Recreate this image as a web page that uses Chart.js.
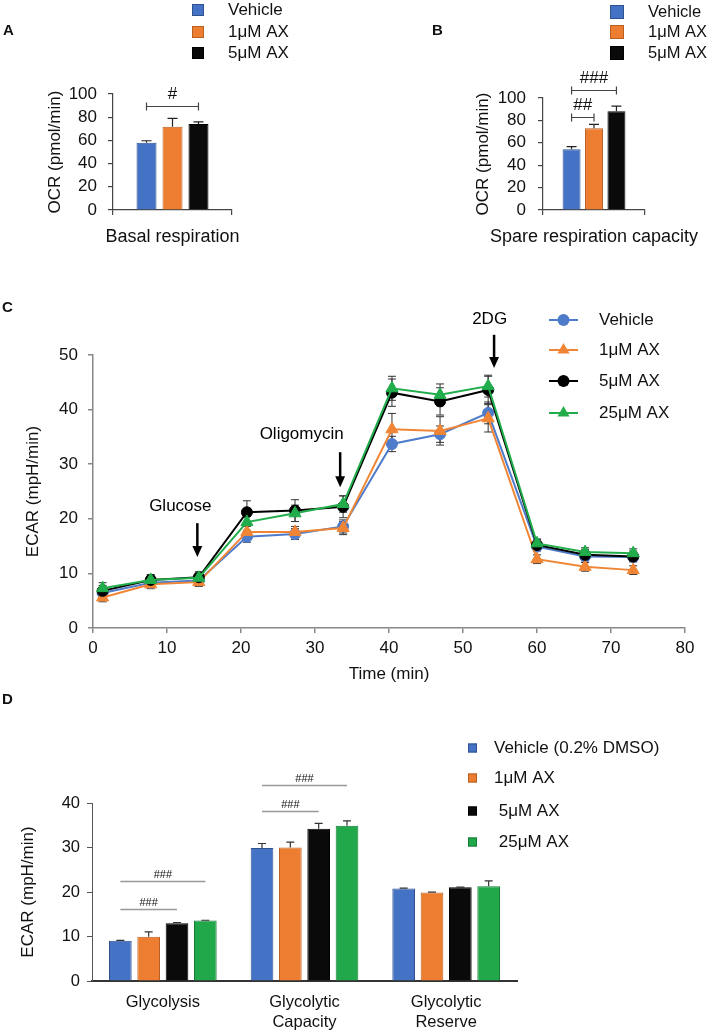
<!DOCTYPE html>
<html>
<head>
<meta charset="utf-8">
<title>OCR and ECAR</title>
<script src="https://cdn.jsdelivr.net/npm/chart.js@4.4.1/dist/chart.umd.min.js"></script>
<style>
  html, body { margin: 0; padding: 0; background: #fff; }
  #page { position: relative; width: 709px; height: 1032px; overflow: hidden; font-family: "Liberation Sans", Arial, sans-serif; }
  .panel { position: absolute; }
  .letter { position: absolute; font-size: 15px; font-weight: bold; line-height: 15px; color: #111; }
</style>
</head>
<body>
<div id="page">
  <div class="panel" style="left:0;top:0;width:360px;height:250px"><canvas id="chartA"></canvas></div>
  <div class="panel" style="left:360px;top:0;width:349px;height:250px"><canvas id="chartB"></canvas></div>
  <div class="panel" style="left:0;top:250px;width:709px;height:440px"><canvas id="chartC"></canvas></div>
  <div class="panel" style="left:0;top:690px;width:709px;height:342px"><canvas id="chartD"></canvas></div>
  <div class="letter" style="left:3px;top:22px">A</div>
  <div class="letter" style="left:432px;top:22px">B</div>
  <div class="letter" style="left:2px;top:299px">C</div>
  <div class="letter" style="left:2px;top:691px">D</div>
</div>
<script>
// ---- panel A / B : OCR bars
const ocrGroups = ['Vehicle', '1μM AX', '5μM AX'];
const basalCategory = ['Basal respiration'];
const basalMean = [58.0, 71.8, 74.1];
const basalErr = [1.7, 7.2, 1.8];
const spareCategory = ['Spare respiration capacity'];
const spareMean = [54.3, 72.9, 88.2];
const spareErr = [2.3, 3.6, 4.5];
const ocrTicks = [0, 20, 40, 60, 80, 100];

const basalSigFrom = [0];
const basalSigTo = [2];
const basalSigLevel = [90];
const basalSigText = ['#'];
const spareSigFrom = [0, 0];
const spareSigTo = [2, 1];
const spareSigLevel = [107.4, 83.2];
const spareSigText = ['###', '##'];

// ---- panel C : ECAR time course
const ecarSeriesNames = ['Vehicle', '1μM AX', '5μM AX', '25μM AX'];
const timeMin = [1.3, 7.8, 14.3, 20.8, 27.3, 33.8, 40.4, 46.9, 53.4, 60.0, 66.5, 73.0];
const ecarVehicle = [6.4, 8.3, 8.7, 16.7, 17.2, 18.6, 33.7, 35.5, 39.4, 14.9, 13.1, 13.0];
const ecar1uM = [5.6, 8.0, 8.4, 17.6, 17.6, 18.3, 36.4, 36.1, 38.4, 12.6, 11.2, 10.6];
const ecar5uM = [6.8, 8.8, 9.3, 21.2, 21.5, 22.2, 43.1, 41.5, 43.6, 15.2, 13.4, 13.1];
const ecar25uM = [7.3, 8.8, 9.2, 19.4, 21.0, 22.7, 43.9, 42.7, 44.3, 15.5, 13.9, 13.7];
const errVehicle = [0.8, 0.8, 0.8, 1.0, 1.0, 1.2, 1.4, 1.5, 2.0, 0.8, 0.8, 0.8];
const err1uM = [0.8, 0.8, 0.8, 1.0, 1.0, 1.2, 2.9, 2.6, 2.5, 0.8, 0.8, 0.8];
const err5uM = [1.0, 1.0, 1.0, 2.1, 2.0, 2.0, 2.5, 2.5, 2.5, 1.0, 1.0, 1.0];
const err25uM = [1.0, 0.8, 0.8, 1.5, 1.5, 1.5, 2.2, 2.0, 2.0, 0.8, 0.8, 0.8];
const timeTicks = [0, 10, 20, 30, 40, 50, 60, 70, 80];
const ecarTicks = [0, 10, 20, 30, 40, 50];

const injectionNames = ['Glucose', 'Oligomycin', '2DG'];
const injectionTime = [14.1, 33.4, 54.2];
const injectionArrowFrom = [19.2, 32.2, 53.7];
const injectionArrowTo = [13.0, 25.8, 47.6];
const injectionLabelTime = [11.8, 28.2, 53.6];
const injectionLabelLevel = [22.2, 35.5, 56.6];

// ---- panel D : glycolysis parameters
const glycoGroups = ['Vehicle (0.2% DMSO)', '1μM AX', ' 5μM AX', ' 25μM AX'];
const glycoCategories = [['Glycolysis'], ['Glycolytic', 'Capacity'], ['Glycolytic', 'Reserve']];
const glycoVehicle = [9.05, 29.9, 20.8];
const glyco1uM = [9.96, 30.0, 19.9];
const glyco5uM = [13.0, 34.2, 21.05];
const glyco25uM = [13.6, 34.9, 21.3];
const glycoVehicleErr = [0.08, 1.0, 0.05];
const glyco1uMErr = [1.1, 1.2, 0.05];
const glyco5uMErr = [0.15, 1.2, 0.05];
const glyco25uMErr = [0.05, 1.1, 1.2];
const glycoTicks = [0, 10, 20, 30, 40];

const glycoSigCategory = [0, 0, 1, 1];
const glycoSigFrom = [0, 0, 0, 0];
const glycoSigTo = [2, 3, 2, 3];
const glycoSigLevel = [16.2, 22.5, 38.2, 44.0];
const glycoSigText = ['###', '###', '###', '###'];

const FONT = '"Liberation Sans", Arial, sans-serif';
const fillColors = ['#4472C4', '#ED7D31', '#0a0a0a', '#21A84A'];
const edgeColors = ['#2f528f', '#b85f22', '#000000', '#157a34'];
const lineColors = ['#4f7bcb', '#ef8535', '#000000', '#22ad4c'];
const markerStyles = ['circle', 'triangle', 'circle', 'triangle'];
const markerSizes = [5.5, 7, 5.5, 7];

Chart.defaults.font.family = FONT;
Chart.defaults.font.size = 17;
Chart.defaults.color = '#111';
Chart.defaults.animation = false;

function drawMarker(ctx, style, x, y, r, color) {
  ctx.fillStyle = color;
  ctx.beginPath();
  if (style === 'triangle') {
    ctx.moveTo(x, y - r);
    ctx.lineTo(x + r * 0.866, y + r * 0.5);
    ctx.lineTo(x - r * 0.866, y + r * 0.5);
    ctx.closePath();
  } else {
    ctx.arc(x, y, r, 0, Math.PI * 2);
  }
  ctx.fill();
}

// error whiskers, drawn under the points for lines and over the bars
function drawErrors(chart, o) {
  const { ctx } = chart;
  const y = chart.scales.y;
  ctx.save();
  ctx.strokeStyle = o.color;
  ctx.lineWidth = o.lineWidth;
  chart.data.datasets.forEach((ds, i) => {
    if (!ds.errors) return;
    chart.getDatasetMeta(i).data.forEach((el, j) => {
      const raw = ds.data[j];
      const v = typeof raw === 'object' ? raw.y : raw;
      const e = ds.errors[j];
      const top = y.getPixelForValue(v + e);
      const bot = o.both ? y.getPixelForValue(v - e) : el.y;
      ctx.beginPath();
      ctx.moveTo(el.x, top);
      ctx.lineTo(el.x, bot);
      ctx.moveTo(el.x - o.cap, top);
      ctx.lineTo(el.x + o.cap, top);
      if (o.both) {
        ctx.moveTo(el.x - o.cap, bot);
        ctx.lineTo(el.x + o.cap, bot);
      }
      ctx.stroke();
    });
  });
  ctx.restore();
}

const errorBars = {
  id: 'errorBars',
  beforeDatasetsDraw(chart, args, o) { if (o && o.cap && o.under) drawErrors(chart, o); },
  afterDatasetsDraw(chart, args, o) { if (o && o.cap && !o.under) drawErrors(chart, o); }
};

const panelLegend = {
  id: 'panelLegend',
  afterDraw(chart, args, o) {
    if (!o || !o.rows) return;
    const ctx = chart.ctx;
    ctx.save();
    ctx.font = `${o.font}px ${FONT}`;
    ctx.textBaseline = 'middle';
    chart.data.datasets.forEach((ds, i) => {
      const cy = o.rows[i];
      if (o.kind === 'line') {
        ctx.strokeStyle = ds.borderColor;
        ctx.lineWidth = 2;
        ctx.beginPath();
        ctx.moveTo(o.x0, cy);
        ctx.lineTo(o.x1, cy);
        ctx.stroke();
        drawMarker(ctx, ds.pointStyle, (o.x0 + o.x1) / 2, cy, ds.pointStyle === 'triangle' ? 7 : 6, ds.borderColor);
      } else {
        ctx.fillStyle = ds.backgroundColor;
        ctx.fillRect(o.x0, cy - o.box / 2, o.box, o.box);
        ctx.strokeStyle = ds.borderColor;
        ctx.lineWidth = 1;
        ctx.strokeRect(o.x0 + 0.5, cy - o.box / 2 + 0.5, o.box - 1, o.box - 1);
      }
      ctx.fillStyle = '#111';
      ctx.fillText(ds.label, o.textX, cy);
    });
    ctx.restore();
  }
};

const sigBrackets = {
  id: 'sigBrackets',
  afterDraw(chart, args, o) {
    if (!o || !o.level) return;
    const ctx = chart.ctx;
    const y = chart.scales.y;
    ctx.save();
    ctx.strokeStyle = o.color;
    ctx.lineWidth = o.lineWidth;
    ctx.fillStyle = '#111';
    ctx.font = `${o.font}px ${FONT}`;
    ctx.textAlign = 'center';
    ctx.textBaseline = 'middle';
    o.level.forEach((lv, k) => {
      const cat = o.category ? o.category[k] : 0;
      const xa = chart.getDatasetMeta(o.from[k]).data[cat].x;
      const xb = chart.getDatasetMeta(o.to[k]).data[cat].x;
      const py = Math.round(y.getPixelForValue(lv)) + 0.5;
      ctx.beginPath();
      ctx.moveTo(xa, py);
      ctx.lineTo(xb, py);
      if (o.cap) {
        ctx.moveTo(xa, py - o.cap);
        ctx.lineTo(xa, py + o.cap);
        ctx.moveTo(xb, py - o.cap);
        ctx.lineTo(xb, py + o.cap);
      }
      ctx.stroke();
      ctx.fillText(o.text[k], (xa + xb) / 2, py - o.gap);
    });
    ctx.restore();
  }
};

const injectionArrows = {
  id: 'injectionArrows',
  afterDatasetsDraw(chart, args, o) {
    if (!o || !o.labels) return;
    const { ctx, scales: { x, y } } = chart;
    ctx.save();
    ctx.strokeStyle = '#000';
    ctx.fillStyle = '#000';
    ctx.lineWidth = 2.5;
    ctx.font = `${o.font}px ${FONT}`;
    ctx.textAlign = 'center';
    ctx.textBaseline = 'middle';
    o.labels.forEach((txt, k) => {
      const px = x.getPixelForValue(o.time[k]);
      const top = y.getPixelForValue(o.from[k]);
      const tip = y.getPixelForValue(o.to[k]);
      ctx.beginPath();
      ctx.moveTo(px, top);
      ctx.lineTo(px, tip - o.head + 1);
      ctx.stroke();
      ctx.beginPath();
      ctx.moveTo(px - o.head * 0.45, tip - o.head);
      ctx.lineTo(px + o.head * 0.45, tip - o.head);
      ctx.lineTo(px, tip);
      ctx.closePath();
      ctx.fill();
      ctx.fillText(txt, x.getPixelForValue(o.labelTime[k]), y.getPixelForValue(o.labelLevel[k]));
    });
    ctx.restore();
  }
};

Chart.register(errorBars, panelLegend, sigBrackets, injectionArrows);

function outwardGrid(color, width) {
  return { drawOnChartArea: false, drawTicks: true, tickLength: 5, color: color, lineWidth: width };
}

// keep wide category labels from shrinking the plot area
function fixHeight(h) {
  return s => { s.height = h; s.paddingLeft = 0; s.paddingRight = 0; };
}

function ocrBarChart(id, category, means, errs, pct, pad, yWidth, titlePad, tickPad, legend, sig) {
  return new Chart(document.getElementById(id), {
    type: 'bar',
    data: {
      labels: category,
      datasets: ocrGroups.map((name, i) => ({
        label: name,
        data: [means[i]],
        errors: [errs[i]],
        backgroundColor: fillColors[i],
        borderColor: edgeColors[i],
        borderWidth: 1,
        categoryPercentage: pct[0],
        barPercentage: pct[1]
      }))
    },
    options: {
      responsive: true,
      maintainAspectRatio: false,
      layout: { padding: pad },
      scales: {
        x: {
          grid: outwardGrid('#444', 1.2),
          border: { color: '#444', width: 1.2 },
          ticks: { padding: 11, maxRotation: 0, minRotation: 0, font: { size: 18 } },
          afterFit: fixHeight(40)
        },
        y: {
          min: 0,
          max: 100,
          afterBuildTicks: s => { s.ticks = ocrTicks.map(v => ({ value: v })); },
          grid: outwardGrid('#444', 1.2),
          border: { color: '#444', width: 1.2 },
          ticks: { padding: tickPad, autoSkip: false, font: { size: 17 } },
          title: { display: true, text: 'OCR (pmol/min)', font: { size: 17 }, padding: { top: titlePad } },
          afterFit: s => { s.width = yWidth; }
        }
      },
      plugins: {
        legend: { display: false },
        tooltip: { enabled: false },
        errorBars: { cap: 5, color: '#222', lineWidth: 1.2, under: false, both: false },
        panelLegend: legend,
        sigBrackets: sig
      }
    }
  });
}

ocrBarChart('chartA', basalCategory, basalMean, basalErr, [0.655, 0.77],
  { left: 0, top: 94, right: 128, bottom: 0 }, 113, 45, 11,
  { kind: 'box', x0: 192, box: 12, textX: 228, rows: [10, 32, 53], font: 17 },
  { from: basalSigFrom, to: basalSigTo, level: basalSigLevel, text: basalSigText, cap: 4, gap: 12, font: 17, color: '#444', lineWidth: 1.2 });

ocrBarChart('chartB', spareCategory, spareMean, spareErr, [0.66, 0.8],
  { left: 0, top: 98, right: 64, bottom: 0 }, 183, 113, 12,
  { kind: 'box', x0: 250, box: 14, textX: 288, rows: [12, 32, 53], font: 16.5 },
  { from: spareSigFrom, to: spareSigTo, level: spareSigLevel, text: spareSigText, cap: 4, gap: 12, font: 17, color: '#444', lineWidth: 1.2 });

const ecarSeries = [ecarVehicle, ecar1uM, ecar5uM, ecar25uM];
const ecarErrSeries = [errVehicle, err1uM, err5uM, err25uM];

new Chart(document.getElementById('chartC'), {
  type: 'line',
  data: {
    datasets: ecarSeriesNames.map((name, i) => ({
      label: name,
      data: timeMin.map((t, k) => ({ x: t, y: ecarSeries[i][k] })),
      errors: ecarErrSeries[i],
      borderColor: lineColors[i],
      backgroundColor: lineColors[i],
      borderWidth: 2,
      pointStyle: markerStyles[i],
      pointRadius: markerSizes[i],
      pointBorderWidth: 1,
      order: 4 - i,
      tension: 0
    }))
  },
  options: {
    responsive: true,
    maintainAspectRatio: false,
    layout: { padding: { left: 0, top: 105, right: 24, bottom: 0 } },
    scales: {
      x: {
        type: 'linear',
        min: 0,
        max: 80,
        afterBuildTicks: s => { s.ticks = timeTicks.map(v => ({ value: v })); },
        grid: outwardGrid('#888', 1.5),
        border: { color: '#888', width: 1.5 },
        ticks: { padding: 5, autoSkip: false, font: { size: 17 } },
        title: { display: true, text: 'Time (min)', font: { size: 17 }, padding: { bottom: 5 } },
        afterFit: fixHeight(62)
      },
      y: {
        min: 0,
        max: 50,
        afterBuildTicks: s => { s.ticks = ecarTicks.map(v => ({ value: v })); },
        grid: outwardGrid('#888', 1.5),
        border: { color: '#888', width: 1.5 },
        ticks: { padding: 10, autoSkip: false, font: { size: 17 } },
        title: { display: true, text: 'ECAR (mpH/min)', font: { size: 17 }, padding: { top: 23 } },
        afterFit: s => { s.width = 93; }
      }
    },
    plugins: {
      legend: { display: false },
      tooltip: { enabled: false },
      errorBars: { cap: 4, color: '#333', lineWidth: 1, under: true, both: true },
      panelLegend: { kind: 'line', x0: 549, x1: 578, textX: 599, rows: [70, 100, 131, 163], font: 17 },
      injectionArrows: {
        labels: injectionNames, time: injectionTime, from: injectionArrowFrom, to: injectionArrowTo,
        labelTime: injectionLabelTime, labelLevel: injectionLabelLevel, head: 11, font: 17
      }
    }
  }
});

const glycoSeries = [glycoVehicle, glyco1uM, glyco5uM, glyco25uM];
const glycoErrSeries = [glycoVehicleErr, glyco1uMErr, glyco5uMErr, glyco25uMErr];

new Chart(document.getElementById('chartD'), {
  type: 'bar',
  data: {
    labels: glycoCategories,
    datasets: glycoGroups.map((name, i) => ({
      label: name,
      data: glycoSeries[i],
      errors: glycoErrSeries[i],
      backgroundColor: fillColors[i],
      borderColor: edgeColors[i],
      borderWidth: 1,
      categoryPercentage: 0.8,
      barPercentage: 0.8
    }))
  },
  options: {
    responsive: true,
    maintainAspectRatio: false,
    layout: { padding: { left: 0, top: 113, right: 192, bottom: 0 } },
    scales: {
      x: {
        grid: { display: false, drawTicks: false },
        border: { color: '#333', width: 2 },
        ticks: { padding: 12, maxRotation: 0, minRotation: 0, font: { size: 16.5 } },
        afterFit: fixHeight(51)
      },
      y: {
        min: 0,
        max: 40,
        afterBuildTicks: s => { s.ticks = glycoTicks.map(v => ({ value: v })); },
        grid: outwardGrid('#555', 1),
        border: { color: '#555', width: 1 },
        ticks: { padding: 7, autoSkip: false, font: { size: 16.5 } },
        title: { display: true, text: 'ECAR (mpH/min)', font: { size: 17 }, padding: { top: 18 } },
        afterFit: s => { s.width = 92; }
      }
    },
    plugins: {
      legend: { display: false },
      tooltip: { enabled: false },
      errorBars: { cap: 4, color: '#333', lineWidth: 1.2, under: false, both: false },
      panelLegend: { kind: 'box', x0: 468, box: 9, textX: 494, rows: [58, 88, 121, 152], font: 17 },
      sigBrackets: {
        category: glycoSigCategory, from: glycoSigFrom, to: glycoSigTo, level: glycoSigLevel,
        text: glycoSigText, cap: 0, gap: 7, font: 11, color: '#999', lineWidth: 1.5
      }
    }
  }
});
</script>
</body>
</html>
